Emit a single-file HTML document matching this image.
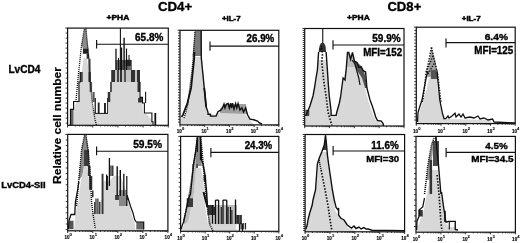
<!DOCTYPE html>
<html><head><meta charset="utf-8"><style>
html,body{margin:0;padding:0;background:#fff;width:520px;height:243px;overflow:hidden;}
svg{display:block;font-family:"Liberation Sans",sans-serif;}
body>svg{filter:grayscale(100%) blur(0.3px);}
</style></head><body>
<svg width="520" height="243" viewBox="0 0 520 243">
<rect x="0" y="0" width="520" height="243" fill="#fff"/>
<svg x="0" y="0" width="520" height="243" overflow="hidden"><clipPath id="cP1"><rect x="67.6" y="28.1" width="100.70000000000002" height="97.19999999999999"/></clipPath><g clip-path="url(#cP1)">
<polygon points="81.60,45.00 83.00,36.00 84.40,28.60 86.00,28.60 87.00,38.00 87.80,45.00 88.50,49.00 82.90,49.00" fill="#8c8c8c"/>
<polygon points="69.50,125.00 70.50,111.00 74.50,110.00 75.50,104.00 76.30,101.00 79.30,100.00 79.50,90.00 80.30,82.00 81.50,76.00 82.50,66.00 83.50,58.00 86.50,58.00 88.00,66.00 89.60,82.00 90.90,98.00 92.00,106.00 93.40,113.60 109.00,113.60 109.00,102.00 110.25,92.00 111.00,86.00 112.00,82.00 137.00,82.00 138.50,88.00 140.60,100.00 142.50,103.00 143.10,113.00 148.00,115.00 151.90,120.50 152.50,125.00" fill="#d8d8d8"/>
<polygon points="82.90,48.75 88.50,48.75 88.50,53.75 82.90,53.75" fill="#222"/>
<polygon points="86.60,53.75 89.10,53.75 89.10,58.75 86.60,58.75" fill="#333"/>
<polygon points="88.50,58.75 90.60,58.75 90.60,72.00 88.50,72.00" fill="#555"/>
<polygon points="88.40,72.00 90.90,72.00 90.90,82.00 88.40,82.00" fill="#333"/>
<polygon points="89.60,82.00 92.10,82.00 92.10,92.00 89.60,92.00" fill="#555"/>
<polygon points="92.50,92.00 94.60,92.00 94.60,102.00 92.50,102.00" fill="#555"/>
<polygon points="80.25,72.00 82.75,72.00 82.75,82.00 80.25,82.00" fill="#444"/>
<polygon points="70.00,110.00 73.40,110.00 73.40,125.00 70.00,125.00" fill="#666"/>
<polygon points="111.25,70.00 140.00,70.00 140.00,82.00 111.25,82.00" fill="#c4c4c4"/>
<polygon points="115.60,60.00 131.90,60.00 131.90,70.00 115.60,70.00" fill="#666"/>
<polygon points="125.70,59.80 130.90,59.80 130.90,66.00 125.70,66.00" fill="#222"/>
<polygon points="111.25,70.00 115.00,70.00 115.00,82.00 111.25,82.00" fill="#333"/>
<polygon points="117.00,70.00 119.00,70.00 119.00,82.00 117.00,82.00" fill="#444"/>
<polygon points="120.00,70.00 122.00,70.00 122.00,82.00 120.00,82.00" fill="#333"/>
<polygon points="124.00,70.00 126.00,70.00 126.00,82.00 124.00,82.00" fill="#555"/>
<polygon points="131.00,70.00 135.00,70.00 135.00,82.00 131.00,82.00" fill="#333"/>
<polygon points="137.00,70.00 140.00,70.00 140.00,82.00 137.00,82.00" fill="#333"/>
<polygon points="107.75,92.00 110.25,92.00 110.25,102.00 107.75,102.00" fill="#333"/>
<polygon points="137.50,82.00 140.00,82.00 140.00,92.00 137.50,92.00" fill="#333"/>
<polygon points="138.10,98.00 141.90,98.00 141.90,102.40 138.10,102.40" fill="#333"/>
<polygon points="110.00,82.00 112.00,82.00 112.00,92.00 110.00,92.00" fill="#555"/>
<polyline points="69.50,125.00 70.50,125.00 70.50,109.30 73.60,109.30 73.60,101.50 79.00,101.50 79.00,82.00 80.25,82.00 80.25,72.00" fill="none" stroke="#111" stroke-width="1.2"/>
<polyline points="140.00,82.00 140.00,97.40 142.50,97.40 142.50,103.00 144.40,103.00 144.40,113.00 151.90,113.00 151.90,121.75 153.00,121.75 153.00,125.00" fill="none" stroke="#111" stroke-width="1.1"/>
<polyline points="116.00,48.75 116.00,70.00" fill="none" stroke="#111" stroke-width="1.3"/>
<polyline points="120.40,28.30 120.40,70.00" fill="none" stroke="#111" stroke-width="1.1"/>
<polyline points="121.60,47.50 121.60,70.00" fill="none" stroke="#111" stroke-width="1.2"/>
<polyline points="124.10,37.80 124.10,70.00" fill="none" stroke="#111" stroke-width="1.4"/>
<polyline points="126.50,48.50 126.50,70.00" fill="none" stroke="#111" stroke-width="1.2"/>
<polyline points="145.60,91.75 145.60,103.00" fill="none" stroke="#111" stroke-width="1.1"/>
<polyline points="155.30,113.00 155.30,125.00" fill="none" stroke="#111" stroke-width="1.8"/>
<polyline points="118.50,58.00 118.50,70.00" fill="none" stroke="#111" stroke-width="1.0"/>
<polyline points="129.00,55.00 129.00,60.00" fill="none" stroke="#111" stroke-width="1.0"/>
<polygon points="94.60,98.00 95.90,98.00 95.90,113.30 94.60,113.30" fill="#222"/>
<polygon points="97.75,102.40 99.60,102.40 99.60,113.30 97.75,113.30" fill="#222"/>
<polygon points="104.00,103.00 105.90,103.00 105.90,113.30 104.00,113.30" fill="#222"/>
<polygon points="107.10,98.00 108.20,98.00 108.20,113.30 107.10,113.30" fill="#222"/>
<polyline points="94.60,113.40 108.00,113.40" fill="none" stroke="#111" stroke-width="1.0"/>
<polyline points="75.90,102.00 78.40,74.50 81.60,45.00 84.40,28.60" fill="none" stroke="#111" stroke-width="1.30" stroke-dasharray="1.1 0.9"/>
<polyline points="86.00,28.60 87.50,45.00 89.00,60.00 90.25,82.00 92.10,102.00 95.25,121.00 96.50,125.00" fill="none" stroke="#111" stroke-width="1.30" stroke-dasharray="1.1 0.9"/>
</g></svg>
<rect x="67.60" y="28.10" width="100.70" height="97.20" fill="none" stroke="#111" stroke-width="1.2"/>
<path d="M65.20,28.10H67.60 M65.60,33.10H67.60 M65.60,38.10H67.60 M65.60,43.10H67.60 M65.60,48.10H67.60 M65.60,53.10H67.60 M65.60,58.10H67.60 M65.60,63.10H67.60 M65.60,68.10H67.60 M65.60,73.10H67.60 M65.60,78.10H67.60 M65.60,83.10H67.60 M65.60,88.10H67.60 M65.60,93.10H67.60 M65.60,98.10H67.60 M65.60,103.10H67.60 M65.60,108.10H67.60 M65.60,113.10H67.60 M65.60,118.10H67.60 M65.60,123.10H67.60 M67.60,125.30V127.50 M75.18,125.30V126.50 M79.61,125.30V126.50 M82.76,125.30V126.50 M85.20,125.30V126.50 M87.19,125.30V126.50 M88.88,125.30V126.50 M90.34,125.30V126.50 M91.62,125.30V126.50 M92.78,125.30V127.50 M100.35,125.30V126.50 M104.79,125.30V126.50 M107.93,125.30V126.50 M110.37,125.30V126.50 M112.36,125.30V126.50 M114.05,125.30V126.50 M115.51,125.30V126.50 M116.80,125.30V126.50 M117.95,125.30V127.50 M125.53,125.30V126.50 M129.96,125.30V126.50 M133.11,125.30V126.50 M135.55,125.30V126.50 M137.54,125.30V126.50 M139.23,125.30V126.50 M140.69,125.30V126.50 M141.97,125.30V126.50 M143.12,125.30V127.50 M150.70,125.30V126.50 M155.14,125.30V126.50 M158.28,125.30V126.50 M160.72,125.30V126.50 M162.71,125.30V126.50 M164.40,125.30V126.50 M165.86,125.30V126.50 M167.15,125.30V126.50 M168.30,125.30V127.50" stroke="#222" stroke-width="0.9" fill="none"/>
<path d="M96.60,40.00V48.40M96.60,44.20H168.30" stroke="#111" stroke-width="1.15" fill="none"/>
<svg x="0" y="0" width="520" height="243" overflow="hidden"><clipPath id="cP2"><rect x="180.0" y="30.3" width="98.80000000000001" height="94.60000000000001"/></clipPath><g clip-path="url(#cP2)">
<polygon points="195.00,30.80 201.50,30.80 201.50,56.00 192.60,56.00" fill="#7a7a7a"/>
<polygon points="181.00,124.50 181.00,119.00 183.00,117.00 184.90,117.00 186.00,112.00 188.00,106.75 190.00,97.00 191.75,88.00 192.50,80.00 193.50,70.00 194.50,62.00 195.50,57.00 201.50,57.00 202.30,65.00 203.00,75.00 204.00,84.00 204.90,88.00 205.50,98.00 206.10,106.75 206.75,111.75 208.00,114.50 217.50,114.50 218.00,113.00 220.00,112.90 240.00,112.90 245.00,114.00 248.00,118.00 251.25,121.50 254.00,124.90" fill="#d8d8d8"/>
<polygon points="220.00,109.00 224.00,104.00 246.00,104.00 247.50,114.00 220.00,113.00" fill="#a0a0a0"/>
<polyline points="194.40,52.00 194.25,58.00 191.10,88.00 187.40,103.00 183.00,114.90 181.50,117.00" fill="none" stroke="#111" stroke-width="1.8"/>
<polyline points="184.00,118.00 186.00,112.00 188.00,104.00 189.50,90.00 191.50,75.00 193.00,60.00 194.00,45.00 195.00,31.00" fill="none" stroke="#111" stroke-width="1.30" stroke-dasharray="1.1 0.9"/>
<polyline points="201.10,30.50 201.30,58.00 202.50,70.00 204.25,88.00 205.00,95.00 206.10,106.75 208.00,112.40 208.00,114.25 210.50,114.25 210.50,116.10 216.10,116.10 218.00,111.75 221.10,109.90 222.50,107.90 224.00,104.00 225.00,108.00 226.50,104.00 228.10,103.50 229.30,108.00 230.60,103.25 231.50,108.00 232.50,103.25 234.00,109.00 235.60,103.50 236.80,108.00 238.10,103.50 240.00,110.00 241.90,107.90 243.50,112.00 245.60,107.90 247.50,114.75 250.00,119.10 253.75,119.75 257.50,121.00 259.40,122.90 262.00,124.00" fill="none" stroke="#111" stroke-width="1.4"/>
<polyline points="204.25,88.00 205.50,100.00 206.10,106.75" fill="none" stroke="#111" stroke-width="1.8"/>
</g></svg>
<rect x="180.00" y="30.30" width="98.80" height="94.60" fill="none" stroke="#111" stroke-width="1.2"/>
<path d="M177.60,30.30H180.00 M178.00,33.00H180.00 M178.00,35.70H180.00 M178.00,38.40H180.00 M178.00,41.10H180.00 M178.00,43.80H180.00 M178.00,46.50H180.00 M178.00,49.20H180.00 M178.00,51.90H180.00 M178.00,54.60H180.00 M178.00,57.30H180.00 M178.00,60.00H180.00 M178.00,62.70H180.00 M178.00,65.40H180.00 M178.00,68.10H180.00 M178.00,70.80H180.00 M178.00,73.50H180.00 M178.00,76.20H180.00 M178.00,78.90H180.00 M178.00,81.60H180.00 M178.00,84.30H180.00 M178.00,87.00H180.00 M178.00,89.70H180.00 M178.00,92.40H180.00 M178.00,95.10H180.00 M178.00,97.80H180.00 M178.00,100.50H180.00 M178.00,103.20H180.00 M178.00,105.90H180.00 M178.00,108.60H180.00 M178.00,111.30H180.00 M178.00,114.00H180.00 M178.00,116.70H180.00 M178.00,119.40H180.00 M178.00,122.10H180.00 M180.00,124.90V127.10 M187.44,124.90V126.10 M191.78,124.90V126.10 M194.87,124.90V126.10 M197.26,124.90V126.10 M199.22,124.90V126.10 M200.87,124.90V126.10 M202.31,124.90V126.10 M203.57,124.90V126.10 M204.70,124.90V127.10 M212.14,124.90V126.10 M216.48,124.90V126.10 M219.57,124.90V126.10 M221.96,124.90V126.10 M223.92,124.90V126.10 M225.57,124.90V126.10 M227.01,124.90V126.10 M228.27,124.90V126.10 M229.40,124.90V127.10 M236.84,124.90V126.10 M241.18,124.90V126.10 M244.27,124.90V126.10 M246.66,124.90V126.10 M248.62,124.90V126.10 M250.27,124.90V126.10 M251.71,124.90V126.10 M252.97,124.90V126.10 M254.10,124.90V127.10 M261.54,124.90V126.10 M265.88,124.90V126.10 M268.97,124.90V126.10 M271.36,124.90V126.10 M273.32,124.90V126.10 M274.97,124.90V126.10 M276.41,124.90V126.10 M277.67,124.90V126.10 M278.80,124.90V127.10" stroke="#222" stroke-width="0.9" fill="none"/>
<path d="M210.00,41.60V50.80M210.00,46.10H278.80" stroke="#111" stroke-width="1.15" fill="none"/>
<text x="176.70" y="132.70" font-size="5.7" font-weight="bold" textLength="5.1" lengthAdjust="spacingAndGlyphs" stroke="#000" stroke-width="0.15">10</text>
<text x="181.90" y="129.60" font-size="4.1" font-weight="bold" stroke="#000" stroke-width="0.1">0</text>
<text x="201.40" y="132.70" font-size="5.7" font-weight="bold" textLength="5.1" lengthAdjust="spacingAndGlyphs" stroke="#000" stroke-width="0.15">10</text>
<text x="206.60" y="129.60" font-size="4.1" font-weight="bold" stroke="#000" stroke-width="0.1">1</text>
<text x="226.10" y="132.70" font-size="5.7" font-weight="bold" textLength="5.1" lengthAdjust="spacingAndGlyphs" stroke="#000" stroke-width="0.15">10</text>
<text x="231.30" y="129.60" font-size="4.1" font-weight="bold" stroke="#000" stroke-width="0.1">2</text>
<text x="250.80" y="132.70" font-size="5.7" font-weight="bold" textLength="5.1" lengthAdjust="spacingAndGlyphs" stroke="#000" stroke-width="0.15">10</text>
<text x="256.00" y="129.60" font-size="4.1" font-weight="bold" stroke="#000" stroke-width="0.1">3</text>
<text x="275.50" y="132.70" font-size="5.7" font-weight="bold" textLength="5.1" lengthAdjust="spacingAndGlyphs" stroke="#000" stroke-width="0.15">10</text>
<text x="280.70" y="129.60" font-size="4.1" font-weight="bold" stroke="#000" stroke-width="0.1">4</text>
<svg x="0" y="0" width="520" height="243" overflow="hidden"><clipPath id="cP3"><rect x="304.7" y="28.5" width="99.30000000000001" height="97.5"/></clipPath><g clip-path="url(#cP3)">
<polyline points="322.75,28.50 322.75,45.00" fill="none" stroke="#111" stroke-width="1.1"/>
<polygon points="318.60,52.00 319.50,46.00 321.00,43.00 324.00,43.00 325.50,46.00 326.10,52.00" fill="#333"/>
<polygon points="305.30,125.80 305.30,118.00 308.00,113.00 310.50,106.00 313.60,96.00 314.50,88.00 316.00,78.00 317.40,70.00 318.20,60.00 326.50,60.00 327.40,70.00 328.30,84.00 329.25,96.00 330.50,106.00 331.10,111.60 331.50,115.60 336.20,115.60 336.75,112.25 339.25,103.50 341.10,96.00 342.50,88.00 343.50,80.00 345.00,74.00 346.50,67.00 356.00,67.00 358.00,72.00 360.00,76.00 362.50,78.00 365.60,90.50 367.50,98.00 370.60,108.00 373.75,116.75 376.25,121.10 381.25,123.60 384.00,125.80 404.00,125.80" fill="#d8d8d8"/>
<polygon points="305.50,109.75 309.25,109.75 309.25,116.00 305.50,116.00" fill="#444"/>
<polygon points="346.50,67.00 347.50,53.00 354.00,56.00 356.00,67.00" fill="#bdbdbd"/>
<polygon points="354.00,60.00 357.00,62.00 361.00,66.00 364.00,71.00 366.00,80.00 367.00,88.00 365.00,88.00 362.00,78.00 358.00,72.00 355.00,67.00" fill="#555"/>
<polyline points="305.50,116.00 307.40,112.25 309.90,106.00 313.00,96.00 314.50,88.00 316.00,78.00 317.40,70.00 318.60,52.00" fill="none" stroke="#111" stroke-width="1.4"/>
<polyline points="326.10,52.00 327.40,70.00 328.30,84.00 329.25,96.00 330.50,106.00 331.10,111.60 331.10,115.40 336.10,115.40 336.75,112.25 339.25,103.50 340.60,96.75 343.10,78.00 345.00,80.00 346.25,68.75 347.50,52.50 348.75,52.50 350.60,59.40 352.50,52.50 354.40,61.25 356.90,62.50 358.75,67.50 361.25,66.90 363.10,70.60 365.60,71.90 366.25,80.00 366.90,88.00 370.00,99.90 371.90,104.90 373.75,110.50 375.60,116.75 377.50,120.50 381.25,121.10 383.10,123.60 383.50,125.80" fill="none" stroke="#111" stroke-width="1.4"/>
<polyline points="352.00,60.00 355.00,64.00 358.75,78.00 360.00,85.00" fill="none" stroke="#111" stroke-width="1.2"/>
<polyline points="320.00,50.00 321.50,46.00 322.40,55.00 321.75,62.00 322.40,68.00 324.00,83.00 326.10,96.00 328.00,112.00 331.10,122.90 332.00,125.50" fill="none" stroke="#111" stroke-width="1.69" stroke-dasharray="1.5 1.6"/>
</g></svg>
<rect x="304.70" y="28.50" width="99.30" height="97.50" fill="none" stroke="#111" stroke-width="1.2"/>
<path d="M302.30,28.50H304.70 M302.70,30.50H304.70 M302.70,32.50H304.70 M302.70,34.50H304.70 M302.70,36.50H304.70 M302.70,38.50H304.70 M302.70,40.50H304.70 M302.70,42.50H304.70 M302.70,44.50H304.70 M302.70,46.50H304.70 M302.70,48.50H304.70 M302.70,50.50H304.70 M302.70,52.50H304.70 M302.70,54.50H304.70 M302.70,56.50H304.70 M302.70,58.50H304.70 M302.70,60.50H304.70 M302.70,62.50H304.70 M302.70,64.50H304.70 M302.70,66.50H304.70 M302.70,68.50H304.70 M302.70,70.50H304.70 M302.70,72.50H304.70 M302.70,74.50H304.70 M302.70,76.50H304.70 M302.70,78.50H304.70 M302.70,80.50H304.70 M302.70,82.50H304.70 M302.70,84.50H304.70 M302.70,86.50H304.70 M302.70,88.50H304.70 M302.70,90.50H304.70 M302.70,92.50H304.70 M302.70,94.50H304.70 M302.70,96.50H304.70 M302.70,98.50H304.70 M302.70,100.50H304.70 M302.70,102.50H304.70 M302.70,104.50H304.70 M302.70,106.50H304.70 M302.70,108.50H304.70 M302.70,110.50H304.70 M302.70,112.50H304.70 M302.70,114.50H304.70 M302.70,116.50H304.70 M302.70,118.50H304.70 M302.70,120.50H304.70 M302.70,122.50H304.70 M302.70,124.50H304.70 M304.70,126.00V128.20 M312.17,126.00V127.20 M316.54,126.00V127.20 M319.65,126.00V127.20 M322.05,126.00V127.20 M324.02,126.00V127.20 M325.68,126.00V127.20 M327.12,126.00V127.20 M328.39,126.00V127.20 M329.52,126.00V128.20 M337.00,126.00V127.20 M341.37,126.00V127.20 M344.47,126.00V127.20 M346.88,126.00V127.20 M348.84,126.00V127.20 M350.50,126.00V127.20 M351.94,126.00V127.20 M353.21,126.00V127.20 M354.35,126.00V128.20 M361.82,126.00V127.20 M366.19,126.00V127.20 M369.30,126.00V127.20 M371.70,126.00V127.20 M373.67,126.00V127.20 M375.33,126.00V127.20 M376.77,126.00V127.20 M378.04,126.00V127.20 M379.18,126.00V128.20 M386.65,126.00V127.20 M391.02,126.00V127.20 M394.12,126.00V127.20 M396.53,126.00V127.20 M398.49,126.00V127.20 M400.15,126.00V127.20 M401.59,126.00V127.20 M402.86,126.00V127.20 M404.00,126.00V128.20" stroke="#222" stroke-width="0.9" fill="none"/>
<path d="M333.00,40.20V49.40M333.00,45.00H404.00" stroke="#111" stroke-width="1.15" fill="none"/>
<svg x="0" y="0" width="520" height="243" overflow="hidden"><clipPath id="cP4"><rect x="416.3" y="27.2" width="98.90000000000003" height="96.39999999999999"/></clipPath><g clip-path="url(#cP4)">
<polygon points="431.50,47.50 434.00,56.00 437.75,72.00 438.00,77.00 427.00,77.00 428.00,71.00 429.50,60.00" fill="#a0a0a0"/>
<polyline points="422.75,102.00 425.90,75.00 431.50,47.50" fill="none" stroke="#111" stroke-width="1.56" stroke-dasharray="1.3 1.4"/>
<polyline points="431.50,47.50 437.75,75.00 440.90,102.00" fill="none" stroke="#111" stroke-width="1.56" stroke-dasharray="1.3 1.4"/>
<polyline points="426.00,72.00 433.00,56.00" fill="none" stroke="#111" stroke-width="1.43" stroke-dasharray="1.3 1.4"/>
<polyline points="428.00,74.00 435.00,62.00" fill="none" stroke="#111" stroke-width="1.43" stroke-dasharray="1.3 1.4"/>
<polygon points="418.00,123.50 418.50,118.00 419.50,112.50 421.50,106.00 423.50,100.00 425.50,92.00 426.70,89.90 428.50,80.00 430.25,77.00 437.10,77.00 437.60,89.90 439.60,102.00 441.20,112.00 443.20,116.30 446.00,119.00 470.00,119.50 490.00,120.50 493.00,123.60" fill="#d8d8d8"/>
<polygon points="431.00,70.00 437.60,70.00 437.60,79.00 431.00,79.00" fill="#555"/>
<polyline points="417.50,122.00 418.00,112.50 420.00,106.00 422.00,100.00 423.50,92.00 425.00,84.00 426.50,76.00 428.00,71.00" fill="none" stroke="#111" stroke-width="1.3"/>
<polyline points="437.10,72.00 439.75,100.00 442.25,112.50 444.10,118.75 446.00,118.50 448.00,116.00 449.00,118.00 452.00,116.00 455.00,113.30 456.00,117.00 459.00,114.00 461.00,117.00 463.00,114.00 465.00,118.00 470.00,117.00 474.00,118.00 478.00,116.00 480.00,119.00 484.00,118.00 488.00,120.00 492.60,119.00 494.00,122.00 515.00,123.00" fill="none" stroke="#111" stroke-width="1.3"/>
</g></svg>
<rect x="416.30" y="27.20" width="98.90" height="96.40" fill="none" stroke="#111" stroke-width="1.2"/>
<path d="M413.90,27.20H416.30 M414.30,30.40H416.30 M414.30,33.60H416.30 M414.30,36.80H416.30 M414.30,40.00H416.30 M414.30,43.20H416.30 M414.30,46.40H416.30 M414.30,49.60H416.30 M414.30,52.80H416.30 M414.30,56.00H416.30 M414.30,59.20H416.30 M414.30,62.40H416.30 M414.30,65.60H416.30 M414.30,68.80H416.30 M414.30,72.00H416.30 M414.30,75.20H416.30 M414.30,78.40H416.30 M414.30,81.60H416.30 M414.30,84.80H416.30 M414.30,88.00H416.30 M414.30,91.20H416.30 M414.30,94.40H416.30 M414.30,97.60H416.30 M414.30,100.80H416.30 M414.30,104.00H416.30 M414.30,107.20H416.30 M414.30,110.40H416.30 M414.30,113.60H416.30 M414.30,116.80H416.30 M414.30,120.00H416.30 M416.30,123.60V125.80 M423.74,123.60V124.80 M428.10,123.60V124.80 M431.19,123.60V124.80 M433.58,123.60V124.80 M435.54,123.60V124.80 M437.20,123.60V124.80 M438.63,123.60V124.80 M439.89,123.60V124.80 M441.03,123.60V125.80 M448.47,123.60V124.80 M452.82,123.60V124.80 M455.91,123.60V124.80 M458.31,123.60V124.80 M460.26,123.60V124.80 M461.92,123.60V124.80 M463.35,123.60V124.80 M464.62,123.60V124.80 M465.75,123.60V125.80 M473.19,123.60V124.80 M477.55,123.60V124.80 M480.64,123.60V124.80 M483.03,123.60V124.80 M484.99,123.60V124.80 M486.65,123.60V124.80 M488.08,123.60V124.80 M489.34,123.60V124.80 M490.48,123.60V125.80 M497.92,123.60V124.80 M502.27,123.60V124.80 M505.36,123.60V124.80 M507.76,123.60V124.80 M509.71,123.60V124.80 M511.37,123.60V124.80 M512.80,123.60V124.80 M514.07,123.60V124.80 M515.20,123.60V125.80" stroke="#222" stroke-width="0.9" fill="none"/>
<path d="M446.00,38.60V47.60M446.00,42.60H515.20" stroke="#111" stroke-width="1.15" fill="none"/>
<text x="413.00" y="132.70" font-size="5.7" font-weight="bold" textLength="5.1" lengthAdjust="spacingAndGlyphs" stroke="#000" stroke-width="0.15">10</text>
<text x="418.20" y="129.60" font-size="4.1" font-weight="bold" stroke="#000" stroke-width="0.1">0</text>
<text x="437.73" y="132.70" font-size="5.7" font-weight="bold" textLength="5.1" lengthAdjust="spacingAndGlyphs" stroke="#000" stroke-width="0.15">10</text>
<text x="442.93" y="129.60" font-size="4.1" font-weight="bold" stroke="#000" stroke-width="0.1">1</text>
<text x="462.45" y="132.70" font-size="5.7" font-weight="bold" textLength="5.1" lengthAdjust="spacingAndGlyphs" stroke="#000" stroke-width="0.15">10</text>
<text x="467.65" y="129.60" font-size="4.1" font-weight="bold" stroke="#000" stroke-width="0.1">2</text>
<text x="487.18" y="132.70" font-size="5.7" font-weight="bold" textLength="5.1" lengthAdjust="spacingAndGlyphs" stroke="#000" stroke-width="0.15">10</text>
<text x="492.38" y="129.60" font-size="4.1" font-weight="bold" stroke="#000" stroke-width="0.1">3</text>
<text x="511.90" y="132.70" font-size="5.7" font-weight="bold" textLength="5.1" lengthAdjust="spacingAndGlyphs" stroke="#000" stroke-width="0.15">10</text>
<text x="517.10" y="129.60" font-size="4.1" font-weight="bold" stroke="#000" stroke-width="0.1">4</text>
<svg x="0" y="0" width="520" height="243" overflow="hidden"><clipPath id="cP5"><rect x="67.7" y="134.4" width="100.2" height="96.4"/></clipPath><g clip-path="url(#cP5)">
<polygon points="78.50,180.00 81.60,150.00 84.20,135.30 86.20,135.30 88.00,145.00 89.10,155.00 89.10,166.00 84.00,166.00 82.25,176.00 79.10,180.00" fill="#8c8c8c"/>
<polygon points="84.10,150.00 89.10,150.00 89.10,166.25 84.10,166.25" fill="#3a3a3a"/>
<polygon points="68.50,230.30 68.50,229.00 74.10,229.00 75.40,214.00 77.00,205.00 78.50,202.00 79.50,190.00 81.00,180.00 82.25,176.00 84.00,166.00 87.00,166.00 88.50,176.00 89.50,185.00 90.50,195.00 91.00,206.00 92.00,214.00 98.00,214.00 98.50,202.00 101.60,200.00 103.50,181.00 106.00,181.00 109.75,181.00 113.50,176.00 120.00,176.00 122.00,180.00 126.00,190.00 127.30,198.30 129.70,206.50 132.20,216.40 134.70,223.00 135.50,230.30" fill="#d8d8d8"/>
<polygon points="87.90,166.00 90.40,166.00 90.40,176.00 87.90,176.00" fill="#333"/>
<polygon points="89.10,176.00 92.25,176.00 92.25,189.75 89.10,189.75" fill="#333"/>
<polygon points="92.00,190.40 93.50,190.40 93.50,197.25 92.00,197.25" fill="#333"/>
<polygon points="69.10,220.75 73.50,220.75 73.50,229.00 69.10,229.00" fill="#555"/>
<polygon points="101.60,173.75 103.50,173.75 103.50,214.00 101.60,214.00" fill="#333"/>
<polygon points="115.00,195.00 128.00,195.00 128.00,200.00 115.00,200.00" fill="#444"/>
<polygon points="136.30,222.00 143.70,222.00 143.70,229.50 136.30,229.50" fill="#666"/>
<polygon points="119.00,190.00 127.00,190.00 127.00,206.00 119.00,206.00" fill="#888"/>
<polyline points="68.50,229.00 69.00,220.75 71.00,214.50 74.75,214.50 75.40,202.00 77.90,188.50 78.80,182.00" fill="none" stroke="#111" stroke-width="1.3"/>
<polyline points="96.00,198.50 96.00,214.00" fill="none" stroke="#111" stroke-width="1.1"/>
<polyline points="97.90,198.50 97.90,214.00" fill="none" stroke="#111" stroke-width="1.1"/>
<polyline points="94.75,202.00 94.75,214.00" fill="none" stroke="#111" stroke-width="1.1"/>
<polyline points="99.75,202.00 99.75,214.00" fill="none" stroke="#111" stroke-width="1.1"/>
<polyline points="106.60,174.40 106.60,190.00" fill="none" stroke="#111" stroke-width="1.2"/>
<polyline points="107.60,176.00 107.60,190.00" fill="none" stroke="#111" stroke-width="1.0"/>
<polyline points="109.40,158.10 109.40,186.00" fill="none" stroke="#111" stroke-width="1.3"/>
<polyline points="111.00,165.60 111.00,176.00" fill="none" stroke="#111" stroke-width="1.2"/>
<polyline points="112.80,165.60 112.80,176.00" fill="none" stroke="#111" stroke-width="1.2"/>
<polyline points="117.20,166.25 117.20,196.00" fill="none" stroke="#111" stroke-width="1.4"/>
<polyline points="120.30,170.00 120.30,196.00" fill="none" stroke="#111" stroke-width="1.4"/>
<polyline points="123.80,173.75 123.80,196.00" fill="none" stroke="#111" stroke-width="1.3"/>
<polyline points="126.80,176.00 126.80,206.00" fill="none" stroke="#111" stroke-width="1.2"/>
<polyline points="127.30,196.00 128.00,198.00 130.60,206.50 133.00,213.00 134.70,219.70 136.30,222.00 143.70,222.00 143.70,229.50" fill="none" stroke="#111" stroke-width="1.2"/>
<polyline points="76.60,206.00 79.10,176.00 81.60,150.00 84.50,135.30" fill="none" stroke="#111" stroke-width="1.43" stroke-dasharray="1.1 0.9"/>
<polyline points="86.00,135.30 88.00,150.00 89.50,166.00 90.50,180.00 91.60,202.00 93.00,214.00 95.40,229.00" fill="none" stroke="#111" stroke-width="1.43" stroke-dasharray="1.1 0.9"/>
</g></svg>
<rect x="67.70" y="134.40" width="100.20" height="96.40" fill="none" stroke="#111" stroke-width="1.2"/>
<path d="M65.30,134.40H67.70 M65.70,140.00H67.70 M65.70,145.60H67.70 M65.70,151.20H67.70 M65.70,156.80H67.70 M65.70,162.40H67.70 M65.70,168.00H67.70 M65.70,173.60H67.70 M65.70,179.20H67.70 M65.70,184.80H67.70 M65.70,190.40H67.70 M65.70,196.00H67.70 M65.70,201.60H67.70 M65.70,207.20H67.70 M65.70,212.80H67.70 M65.70,218.40H67.70 M65.70,224.00H67.70 M65.70,229.60H67.70 M67.70,230.80V233.00 M75.24,230.80V232.00 M79.65,230.80V232.00 M82.78,230.80V232.00 M85.21,230.80V232.00 M87.19,230.80V232.00 M88.87,230.80V232.00 M90.32,230.80V232.00 M91.60,230.80V232.00 M92.75,230.80V233.00 M100.29,230.80V232.00 M104.70,230.80V232.00 M107.83,230.80V232.00 M110.26,230.80V232.00 M112.24,230.80V232.00 M113.92,230.80V232.00 M115.37,230.80V232.00 M116.65,230.80V232.00 M117.80,230.80V233.00 M125.34,230.80V232.00 M129.75,230.80V232.00 M132.88,230.80V232.00 M135.31,230.80V232.00 M137.29,230.80V232.00 M138.97,230.80V232.00 M140.42,230.80V232.00 M141.70,230.80V232.00 M142.85,230.80V233.00 M150.39,230.80V232.00 M154.80,230.80V232.00 M157.93,230.80V232.00 M160.36,230.80V232.00 M162.34,230.80V232.00 M164.02,230.80V232.00 M165.47,230.80V232.00 M166.75,230.80V232.00 M167.90,230.80V233.00" stroke="#222" stroke-width="0.9" fill="none"/>
<path d="M96.60,146.40V155.20M96.60,151.20H167.90" stroke="#111" stroke-width="1.15" fill="none"/>
<text x="64.40" y="239.30" font-size="5.7" font-weight="bold" textLength="5.1" lengthAdjust="spacingAndGlyphs" stroke="#000" stroke-width="0.15">10</text>
<text x="69.60" y="236.20" font-size="4.1" font-weight="bold" stroke="#000" stroke-width="0.1">0</text>
<text x="89.45" y="239.30" font-size="5.7" font-weight="bold" textLength="5.1" lengthAdjust="spacingAndGlyphs" stroke="#000" stroke-width="0.15">10</text>
<text x="94.65" y="236.20" font-size="4.1" font-weight="bold" stroke="#000" stroke-width="0.1">1</text>
<text x="114.50" y="239.30" font-size="5.7" font-weight="bold" textLength="5.1" lengthAdjust="spacingAndGlyphs" stroke="#000" stroke-width="0.15">10</text>
<text x="119.70" y="236.20" font-size="4.1" font-weight="bold" stroke="#000" stroke-width="0.1">2</text>
<text x="139.55" y="239.30" font-size="5.7" font-weight="bold" textLength="5.1" lengthAdjust="spacingAndGlyphs" stroke="#000" stroke-width="0.15">10</text>
<text x="144.75" y="236.20" font-size="4.1" font-weight="bold" stroke="#000" stroke-width="0.1">3</text>
<text x="164.60" y="239.30" font-size="5.7" font-weight="bold" textLength="5.1" lengthAdjust="spacingAndGlyphs" stroke="#000" stroke-width="0.15">10</text>
<text x="169.80" y="236.20" font-size="4.1" font-weight="bold" stroke="#000" stroke-width="0.1">4</text>
<svg x="0" y="0" width="520" height="243" overflow="hidden"><clipPath id="cP6"><rect x="180.6" y="136.4" width="98.20000000000002" height="94.9"/></clipPath><g clip-path="url(#cP6)">
<polygon points="197.00,136.90 201.00,136.90 201.10,152.00 201.75,166.00 192.40,166.00 195.50,152.00" fill="#8c8c8c"/>
<polyline points="197.40,136.90 197.40,152.00" fill="none" stroke="#111" stroke-width="1.1"/>
<polyline points="200.50,136.90 200.50,160.00" fill="none" stroke="#111" stroke-width="1.2"/>
<polygon points="192.40,164.00 198.00,164.00 198.00,170.00 192.40,170.00" fill="#555"/>
<polygon points="181.00,231.00 182.00,228.00 184.50,225.00 188.00,222.00 190.00,214.00 191.10,207.00 193.00,198.00 194.25,192.00 195.00,180.00 196.00,168.00 201.00,168.00 202.50,175.00 203.60,185.00 204.50,195.00 205.20,205.00 206.10,214.00 207.30,219.00 208.00,224.40 236.25,224.40 236.25,229.40 240.00,231.30" fill="#d8d8d8"/>
<polygon points="183.60,222.00 186.75,207.00 188.00,200.00 190.50,194.00 193.60,164.00 195.50,152.00 196.00,168.00 195.00,180.00 194.25,192.00 193.00,198.00 191.10,207.00 190.00,214.00 188.00,222.00 184.50,225.00" fill="#bbbbbb"/>
<polygon points="208.00,205.00 237.00,205.00 237.00,224.40 208.00,224.40" fill="#bdbdbd"/>
<polygon points="207.50,205.00 213.75,205.00 213.75,215.00 207.50,215.00" fill="#333"/>
<polygon points="208.00,207.00 215.50,207.00 215.50,215.10 208.00,215.10" fill="#333"/>
<polygon points="186.75,198.25 193.00,198.25 193.00,207.00 186.75,207.00" fill="#3a3a3a"/>
<polygon points="203.60,175.25 206.10,175.25 206.10,181.50 203.60,181.50" fill="#333"/>
<polygon points="235.00,215.00 241.25,215.00 241.25,223.75 235.00,223.75" fill="#555"/>
<polyline points="181.00,229.00 182.00,226.00 183.60,222.00 186.75,207.00 188.00,200.00 190.50,194.00 193.60,164.00 195.50,152.00 197.40,137.00" fill="none" stroke="#111" stroke-width="1.3"/>
<polyline points="200.50,137.00 201.50,160.00 203.00,164.00 205.00,175.00 206.75,194.00 207.40,207.00" fill="none" stroke="#111" stroke-width="1.5"/>
<polyline points="203.60,192.00 207.40,207.00" fill="none" stroke="#111" stroke-width="2.0"/>
<polyline points="212.50,205.00 212.50,223.75" fill="none" stroke="#111" stroke-width="1.1"/>
<polyline points="215.50,200.10 215.50,224.00" fill="none" stroke="#111" stroke-width="1.3"/>
<polyline points="218.60,200.10 218.60,224.00" fill="none" stroke="#111" stroke-width="1.3"/>
<polyline points="221.25,207.00 221.25,224.00" fill="none" stroke="#111" stroke-width="1.1"/>
<polyline points="223.00,200.10 223.00,224.00" fill="none" stroke="#111" stroke-width="1.3"/>
<polyline points="226.75,200.10 226.75,224.00" fill="none" stroke="#111" stroke-width="1.3"/>
<polyline points="228.00,207.00 228.00,224.00" fill="none" stroke="#111" stroke-width="1.2"/>
<polyline points="230.50,207.00 230.50,224.00" fill="none" stroke="#111" stroke-width="1.2"/>
<polyline points="231.90,210.00 231.90,224.00" fill="none" stroke="#111" stroke-width="1.0"/>
<polyline points="235.50,199.50 235.50,224.00" fill="none" stroke="#111" stroke-width="1.3"/>
<polyline points="238.00,215.00 238.00,224.00" fill="none" stroke="#111" stroke-width="1.2"/>
<polyline points="241.10,215.00 241.10,229.40" fill="none" stroke="#111" stroke-width="1.2"/>
<polyline points="239.40,223.75 239.40,231.00" fill="none" stroke="#111" stroke-width="1.1"/>
<polyline points="242.50,223.75 242.50,231.00" fill="none" stroke="#111" stroke-width="1.1"/>
<polyline points="243.75,223.00 243.75,229.40" fill="none" stroke="#111" stroke-width="1.0"/>
<polyline points="245.60,223.00 245.60,229.40" fill="none" stroke="#111" stroke-width="1.0"/>
<polyline points="215.50,200.10 218.60,200.10" fill="none" stroke="#111" stroke-width="1.2"/>
<polyline points="223.00,200.10 226.75,200.10" fill="none" stroke="#111" stroke-width="1.2"/>
<polyline points="239.40,223.75 242.50,223.75" fill="none" stroke="#111" stroke-width="1.0"/>
<polyline points="183.60,222.00 186.75,207.00 189.00,196.00 191.50,180.00 193.60,164.00 196.00,150.00 197.40,137.00" fill="none" stroke="#111" stroke-width="1.43" stroke-dasharray="1.1 0.9"/>
<polyline points="200.50,137.00 202.00,150.00 203.50,168.00 205.00,185.00 206.50,200.00 208.00,213.00 210.00,225.00 213.00,231.00" fill="none" stroke="#111" stroke-width="1.43" stroke-dasharray="1.1 0.9"/>
</g></svg>
<rect x="180.60" y="136.40" width="98.20" height="94.90" fill="none" stroke="#111" stroke-width="1.2"/>
<path d="M178.20,136.40H180.60 M178.60,141.00H180.60 M178.60,145.60H180.60 M178.60,150.20H180.60 M178.60,154.80H180.60 M178.60,159.40H180.60 M178.60,164.00H180.60 M178.60,168.60H180.60 M178.60,173.20H180.60 M178.60,177.80H180.60 M178.60,182.40H180.60 M178.60,187.00H180.60 M178.60,191.60H180.60 M178.60,196.20H180.60 M178.60,200.80H180.60 M178.60,205.40H180.60 M178.60,210.00H180.60 M178.60,214.60H180.60 M178.60,219.20H180.60 M178.60,223.80H180.60 M178.60,228.40H180.60 M180.60,231.30V233.50 M187.99,231.30V232.50 M192.31,231.30V232.50 M195.38,231.30V232.50 M197.76,231.30V232.50 M199.70,231.30V232.50 M201.35,231.30V232.50 M202.77,231.30V232.50 M204.03,231.30V232.50 M205.15,231.30V233.50 M212.54,231.30V232.50 M216.86,231.30V232.50 M219.93,231.30V232.50 M222.31,231.30V232.50 M224.25,231.30V232.50 M225.90,231.30V232.50 M227.32,231.30V232.50 M228.58,231.30V232.50 M229.70,231.30V233.50 M237.09,231.30V232.50 M241.41,231.30V232.50 M244.48,231.30V232.50 M246.86,231.30V232.50 M248.80,231.30V232.50 M250.45,231.30V232.50 M251.87,231.30V232.50 M253.13,231.30V232.50 M254.25,231.30V233.50 M261.64,231.30V232.50 M265.96,231.30V232.50 M269.03,231.30V232.50 M271.41,231.30V232.50 M273.35,231.30V232.50 M275.00,231.30V232.50 M276.42,231.30V232.50 M277.68,231.30V232.50 M278.80,231.30V233.50" stroke="#222" stroke-width="0.9" fill="none"/>
<path d="M210.90,147.90V157.20M210.90,152.30H278.80" stroke="#111" stroke-width="1.15" fill="none"/>
<text x="177.30" y="239.80" font-size="5.7" font-weight="bold" textLength="5.1" lengthAdjust="spacingAndGlyphs" stroke="#000" stroke-width="0.15">10</text>
<text x="182.50" y="236.70" font-size="4.1" font-weight="bold" stroke="#000" stroke-width="0.1">0</text>
<text x="201.85" y="239.80" font-size="5.7" font-weight="bold" textLength="5.1" lengthAdjust="spacingAndGlyphs" stroke="#000" stroke-width="0.15">10</text>
<text x="207.05" y="236.70" font-size="4.1" font-weight="bold" stroke="#000" stroke-width="0.1">1</text>
<text x="226.40" y="239.80" font-size="5.7" font-weight="bold" textLength="5.1" lengthAdjust="spacingAndGlyphs" stroke="#000" stroke-width="0.15">10</text>
<text x="231.60" y="236.70" font-size="4.1" font-weight="bold" stroke="#000" stroke-width="0.1">2</text>
<text x="250.95" y="239.80" font-size="5.7" font-weight="bold" textLength="5.1" lengthAdjust="spacingAndGlyphs" stroke="#000" stroke-width="0.15">10</text>
<text x="256.15" y="236.70" font-size="4.1" font-weight="bold" stroke="#000" stroke-width="0.1">3</text>
<text x="275.50" y="239.80" font-size="5.7" font-weight="bold" textLength="5.1" lengthAdjust="spacingAndGlyphs" stroke="#000" stroke-width="0.15">10</text>
<text x="280.70" y="236.70" font-size="4.1" font-weight="bold" stroke="#000" stroke-width="0.1">4</text>
<svg x="0" y="0" width="520" height="243" overflow="hidden"><clipPath id="cP7"><rect x="305.1" y="134.5" width="99.5" height="97.30000000000001"/></clipPath><g clip-path="url(#cP7)">
<polygon points="324.25,145.00 325.50,135.40 326.10,140.00 326.70,150.00 322.50,150.00" fill="#3a3a3a"/>
<polygon points="305.50,231.50 305.50,228.00 307.20,228.00 308.60,220.00 310.50,213.00 313.00,200.00 315.50,190.00 317.00,180.00 318.60,162.00 320.00,155.00 321.75,152.00 327.00,152.00 327.70,158.00 328.00,162.00 330.00,175.00 332.40,190.00 334.25,200.00 334.80,210.00 338.00,215.00 341.00,219.00 344.00,221.00 348.20,228.00 353.20,229.50 356.00,231.80" fill="#d8d8d8"/>
<polyline points="305.60,229.00 306.30,228.00 307.20,225.00 308.00,220.00 309.70,213.00 312.20,205.00 313.00,200.00 315.50,190.00 317.40,164.00 319.25,158.00 321.75,152.00 324.25,145.00 325.50,135.30" fill="none" stroke="#111" stroke-width="1.4"/>
<polyline points="325.50,135.30 326.10,140.00 327.40,155.00 328.60,164.00 332.40,190.00 334.25,200.00 336.10,207.50 338.10,210.00 338.60,208.00 338.60,215.00 340.60,218.00 344.00,220.00 347.30,225.00 351.50,228.00 354.00,226.00 356.00,228.50 359.00,227.00 361.00,229.00 364.00,227.50 366.00,229.00 368.20,229.00 372.00,230.20 404.00,230.60" fill="none" stroke="#111" stroke-width="1.4"/>
<polyline points="321.10,170.00 325.50,192.00 328.20,207.00 329.80,218.00 331.40,228.00 332.00,231.00" fill="none" stroke="#111" stroke-width="1.69" stroke-dasharray="1.5 1.6"/>
<polyline points="319.00,160.00 321.10,170.00" fill="none" stroke="#111" stroke-width="1.43" stroke-dasharray="1.1 0.9"/>
</g></svg>
<rect x="305.10" y="134.50" width="99.50" height="97.30" fill="none" stroke="#111" stroke-width="1.2"/>
<path d="M302.70,134.50H305.10 M303.10,136.50H305.10 M303.10,138.50H305.10 M303.10,140.50H305.10 M303.10,142.50H305.10 M303.10,144.50H305.10 M303.10,146.50H305.10 M303.10,148.50H305.10 M303.10,150.50H305.10 M303.10,152.50H305.10 M303.10,154.50H305.10 M303.10,156.50H305.10 M303.10,158.50H305.10 M303.10,160.50H305.10 M303.10,162.50H305.10 M303.10,164.50H305.10 M303.10,166.50H305.10 M303.10,168.50H305.10 M303.10,170.50H305.10 M303.10,172.50H305.10 M303.10,174.50H305.10 M303.10,176.50H305.10 M303.10,178.50H305.10 M303.10,180.50H305.10 M303.10,182.50H305.10 M303.10,184.50H305.10 M303.10,186.50H305.10 M303.10,188.50H305.10 M303.10,190.50H305.10 M303.10,192.50H305.10 M303.10,194.50H305.10 M303.10,196.50H305.10 M303.10,198.50H305.10 M303.10,200.50H305.10 M303.10,202.50H305.10 M303.10,204.50H305.10 M303.10,206.50H305.10 M303.10,208.50H305.10 M303.10,210.50H305.10 M303.10,212.50H305.10 M303.10,214.50H305.10 M303.10,216.50H305.10 M303.10,218.50H305.10 M303.10,220.50H305.10 M303.10,222.50H305.10 M303.10,224.50H305.10 M303.10,226.50H305.10 M303.10,228.50H305.10 M303.10,230.50H305.10 M305.10,231.80V234.00 M312.59,231.80V233.00 M316.97,231.80V233.00 M320.08,231.80V233.00 M322.49,231.80V233.00 M324.46,231.80V233.00 M326.12,231.80V233.00 M327.56,231.80V233.00 M328.84,231.80V233.00 M329.98,231.80V234.00 M337.46,231.80V233.00 M341.84,231.80V233.00 M344.95,231.80V233.00 M347.36,231.80V233.00 M349.33,231.80V233.00 M351.00,231.80V233.00 M352.44,231.80V233.00 M353.71,231.80V233.00 M354.85,231.80V234.00 M362.34,231.80V233.00 M366.72,231.80V233.00 M369.83,231.80V233.00 M372.24,231.80V233.00 M374.21,231.80V233.00 M375.87,231.80V233.00 M377.31,231.80V233.00 M378.59,231.80V233.00 M379.73,231.80V234.00 M387.21,231.80V233.00 M391.59,231.80V233.00 M394.70,231.80V233.00 M397.11,231.80V233.00 M399.08,231.80V233.00 M400.75,231.80V233.00 M402.19,231.80V233.00 M403.46,231.80V233.00 M404.60,231.80V234.00" stroke="#222" stroke-width="0.9" fill="none"/>
<path d="M333.10,146.00V155.30M333.10,151.00H404.60" stroke="#111" stroke-width="1.15" fill="none"/>
<text x="301.80" y="240.30" font-size="5.7" font-weight="bold" textLength="5.1" lengthAdjust="spacingAndGlyphs" stroke="#000" stroke-width="0.15">10</text>
<text x="307.00" y="237.20" font-size="4.1" font-weight="bold" stroke="#000" stroke-width="0.1">0</text>
<text x="326.68" y="240.30" font-size="5.7" font-weight="bold" textLength="5.1" lengthAdjust="spacingAndGlyphs" stroke="#000" stroke-width="0.15">10</text>
<text x="331.88" y="237.20" font-size="4.1" font-weight="bold" stroke="#000" stroke-width="0.1">1</text>
<text x="351.55" y="240.30" font-size="5.7" font-weight="bold" textLength="5.1" lengthAdjust="spacingAndGlyphs" stroke="#000" stroke-width="0.15">10</text>
<text x="356.75" y="237.20" font-size="4.1" font-weight="bold" stroke="#000" stroke-width="0.1">2</text>
<text x="376.43" y="240.30" font-size="5.7" font-weight="bold" textLength="5.1" lengthAdjust="spacingAndGlyphs" stroke="#000" stroke-width="0.15">10</text>
<text x="381.62" y="237.20" font-size="4.1" font-weight="bold" stroke="#000" stroke-width="0.1">3</text>
<text x="401.30" y="240.30" font-size="5.7" font-weight="bold" textLength="5.1" lengthAdjust="spacingAndGlyphs" stroke="#000" stroke-width="0.15">10</text>
<text x="406.50" y="237.20" font-size="4.1" font-weight="bold" stroke="#000" stroke-width="0.1">4</text>
<svg x="0" y="0" width="520" height="243" overflow="hidden"><clipPath id="cP8"><rect x="416.0" y="136.4" width="99.39999999999998" height="95.79999999999998"/></clipPath><g clip-path="url(#cP8)">
<polyline points="435.90,136.80 435.90,150.00" fill="none" stroke="#111" stroke-width="1.2"/>
<polygon points="434.00,138.00 433.00,141.00 431.50,145.00 427.75,166.00 426.50,180.00 429.60,180.00 433.00,150.00" fill="#999"/>
<polygon points="433.00,141.00 439.00,141.00 439.00,166.00 433.00,166.00" fill="#4a4a4a"/>
<polygon points="417.00,231.60 417.00,226.00 419.00,224.30 420.00,220.00 422.00,216.40 423.40,212.00 425.00,204.00 427.10,192.00 429.60,180.00 432.10,170.00 438.00,170.00 438.40,180.00 439.20,188.00 440.25,192.00 441.50,198.00 443.00,205.00 444.60,222.00 446.00,224.00 447.50,225.00 449.00,227.00 456.00,227.00 458.00,232.20" fill="#d8d8d8"/>
<polygon points="429.60,160.00 432.10,160.00 432.10,194.00 429.60,194.00" fill="#333"/>
<polygon points="419.00,210.00 422.75,210.00 422.75,216.40 419.00,216.40" fill="#333"/>
<polygon points="444.00,210.75 445.90,210.75 445.90,222.00 444.00,222.00" fill="#333"/>
<polyline points="416.60,230.00 417.00,221.30 419.00,216.40 419.00,210.00 422.75,207.00 424.50,198.00" fill="none" stroke="#111" stroke-width="1.3"/>
<polyline points="435.90,137.00 437.00,150.00 438.40,164.00 440.90,194.00 441.50,192.00 444.00,210.00 445.90,222.00 447.10,222.00 448.40,221.40 455.25,221.40 455.25,229.50 458.00,230.00" fill="none" stroke="#111" stroke-width="1.4"/>
<polyline points="449.30,221.40 449.30,229.50" fill="none" stroke="#111" stroke-width="1.1"/>
<polyline points="424.60,194.00 427.75,166.00 431.50,145.00 434.00,138.00" fill="none" stroke="#111" stroke-width="1.56" stroke-dasharray="1.1 0.9"/>
<polyline points="437.10,175.00 439.00,194.00 440.90,222.00 442.00,231.00" fill="none" stroke="#111" stroke-width="1.69" stroke-dasharray="1.5 1.6"/>
</g></svg>
<rect x="416.00" y="136.40" width="99.40" height="95.80" fill="none" stroke="#111" stroke-width="1.2"/>
<path d="M413.60,136.40H416.00 M414.00,141.70H416.00 M414.00,147.00H416.00 M414.00,152.30H416.00 M414.00,157.60H416.00 M414.00,162.90H416.00 M414.00,168.20H416.00 M414.00,173.50H416.00 M414.00,178.80H416.00 M414.00,184.10H416.00 M414.00,189.40H416.00 M414.00,194.70H416.00 M414.00,200.00H416.00 M414.00,205.30H416.00 M414.00,210.60H416.00 M414.00,215.90H416.00 M414.00,221.20H416.00 M414.00,226.50H416.00 M416.00,232.20V234.40 M423.48,232.20V233.40 M427.86,232.20V233.40 M430.96,232.20V233.40 M433.37,232.20V233.40 M435.34,232.20V233.40 M437.00,232.20V233.40 M438.44,232.20V233.40 M439.71,232.20V233.40 M440.85,232.20V234.40 M448.33,232.20V233.40 M452.71,232.20V233.40 M455.81,232.20V233.40 M458.22,232.20V233.40 M460.19,232.20V233.40 M461.85,232.20V233.40 M463.29,232.20V233.40 M464.56,232.20V233.40 M465.70,232.20V234.40 M473.18,232.20V233.40 M477.56,232.20V233.40 M480.66,232.20V233.40 M483.07,232.20V233.40 M485.04,232.20V233.40 M486.70,232.20V233.40 M488.14,232.20V233.40 M489.41,232.20V233.40 M490.55,232.20V234.40 M498.03,232.20V233.40 M502.41,232.20V233.40 M505.51,232.20V233.40 M507.92,232.20V233.40 M509.89,232.20V233.40 M511.55,232.20V233.40 M512.99,232.20V233.40 M514.26,232.20V233.40 M515.40,232.20V234.40" stroke="#222" stroke-width="0.9" fill="none"/>
<path d="M446.10,147.90V157.20M446.10,152.30H515.40" stroke="#111" stroke-width="1.15" fill="none"/>
<text x="412.70" y="240.70" font-size="5.7" font-weight="bold" textLength="5.1" lengthAdjust="spacingAndGlyphs" stroke="#000" stroke-width="0.15">10</text>
<text x="417.90" y="237.60" font-size="4.1" font-weight="bold" stroke="#000" stroke-width="0.1">0</text>
<text x="437.55" y="240.70" font-size="5.7" font-weight="bold" textLength="5.1" lengthAdjust="spacingAndGlyphs" stroke="#000" stroke-width="0.15">10</text>
<text x="442.75" y="237.60" font-size="4.1" font-weight="bold" stroke="#000" stroke-width="0.1">1</text>
<text x="462.40" y="240.70" font-size="5.7" font-weight="bold" textLength="5.1" lengthAdjust="spacingAndGlyphs" stroke="#000" stroke-width="0.15">10</text>
<text x="467.60" y="237.60" font-size="4.1" font-weight="bold" stroke="#000" stroke-width="0.1">2</text>
<text x="487.25" y="240.70" font-size="5.7" font-weight="bold" textLength="5.1" lengthAdjust="spacingAndGlyphs" stroke="#000" stroke-width="0.15">10</text>
<text x="492.45" y="237.60" font-size="4.1" font-weight="bold" stroke="#000" stroke-width="0.1">3</text>
<text x="512.10" y="240.70" font-size="5.7" font-weight="bold" textLength="5.1" lengthAdjust="spacingAndGlyphs" stroke="#000" stroke-width="0.15">10</text>
<text x="517.30" y="237.60" font-size="4.1" font-weight="bold" stroke="#000" stroke-width="0.1">4</text>
<text x="157.90" y="11.30" font-size="12.85" font-weight="bold" textLength="34.40" lengthAdjust="spacingAndGlyphs" stroke="#000" stroke-width="0.35">CD4+</text>
<text x="387.40" y="10.80" font-size="12.99" font-weight="bold" textLength="33.90" lengthAdjust="spacingAndGlyphs" stroke="#000" stroke-width="0.35">CD8+</text>
<text x="106.60" y="19.70" font-size="7.12" font-weight="bold" textLength="22.70" lengthAdjust="spacingAndGlyphs" stroke="#000" stroke-width="0.45">+PHA</text>
<text x="221.90" y="20.50" font-size="7.40" font-weight="bold" textLength="18.80" lengthAdjust="spacingAndGlyphs" stroke="#000" stroke-width="0.45">+IL-7</text>
<text x="347.10" y="20.10" font-size="7.68" font-weight="bold" textLength="22.70" lengthAdjust="spacingAndGlyphs" stroke="#000" stroke-width="0.45">+PHA</text>
<text x="461.70" y="20.50" font-size="7.12" font-weight="bold" textLength="19.00" lengthAdjust="spacingAndGlyphs" stroke="#000" stroke-width="0.45">+IL-7</text>
<text x="8.45" y="72.50" font-size="10.06" font-weight="bold" textLength="32.05" lengthAdjust="spacingAndGlyphs" stroke="#000" stroke-width="0.35">LvCD4</text>
<text x="1.20" y="187.90" font-size="8.66" font-weight="bold" textLength="44.40" lengthAdjust="spacingAndGlyphs" stroke="#000" stroke-width="0.35">LvCD4-SII</text>
<text x="135.10" y="41.00" font-size="10.06" font-weight="bold" textLength="28.20" lengthAdjust="spacingAndGlyphs" stroke="#000" stroke-width="0.35">65.8%</text>
<text x="246.60" y="42.25" font-size="10.13" font-weight="bold" textLength="27.70" lengthAdjust="spacingAndGlyphs" stroke="#000" stroke-width="0.35">26.9%</text>
<text x="372.30" y="41.50" font-size="10.47" font-weight="bold" textLength="28.40" lengthAdjust="spacingAndGlyphs" stroke="#000" stroke-width="0.35">59.9%</text>
<text x="363.20" y="56.20" font-size="10.34" font-weight="bold" textLength="38.90" lengthAdjust="spacingAndGlyphs" stroke="#000" stroke-width="0.35">MFI=152</text>
<text x="484.70" y="39.60" font-size="8.66" font-weight="bold" textLength="23.30" lengthAdjust="spacingAndGlyphs" stroke="#000" stroke-width="0.35">6.4%</text>
<text x="474.20" y="53.80" font-size="10.34" font-weight="bold" textLength="39.10" lengthAdjust="spacingAndGlyphs" stroke="#000" stroke-width="0.35">MFI=125</text>
<text x="133.20" y="147.70" font-size="10.75" font-weight="bold" textLength="28.90" lengthAdjust="spacingAndGlyphs" stroke="#000" stroke-width="0.35">59.5%</text>
<text x="244.70" y="148.50" font-size="10.13" font-weight="bold" textLength="27.50" lengthAdjust="spacingAndGlyphs" stroke="#000" stroke-width="0.35">24.3%</text>
<text x="371.30" y="148.50" font-size="10.47" font-weight="bold" textLength="27.40" lengthAdjust="spacingAndGlyphs" stroke="#000" stroke-width="0.35">11.6%</text>
<text x="366.20" y="162.20" font-size="8.94" font-weight="bold" textLength="32.90" lengthAdjust="spacingAndGlyphs" stroke="#000" stroke-width="0.35">MFI=30</text>
<text x="485.30" y="148.50" font-size="9.08" font-weight="bold" textLength="22.40" lengthAdjust="spacingAndGlyphs" stroke="#000" stroke-width="0.35">4.5%</text>
<text x="471.20" y="162.20" font-size="8.94" font-weight="bold" textLength="42.30" lengthAdjust="spacingAndGlyphs" stroke="#000" stroke-width="0.35">MFI=34.5</text>
<text transform="translate(61,184) rotate(-90)" x="0" y="0" font-size="10.3" font-weight="bold" textLength="117" lengthAdjust="spacingAndGlyphs" stroke="#000" stroke-width="0.2">Relative cell number</text>
</svg>
</body></html>
